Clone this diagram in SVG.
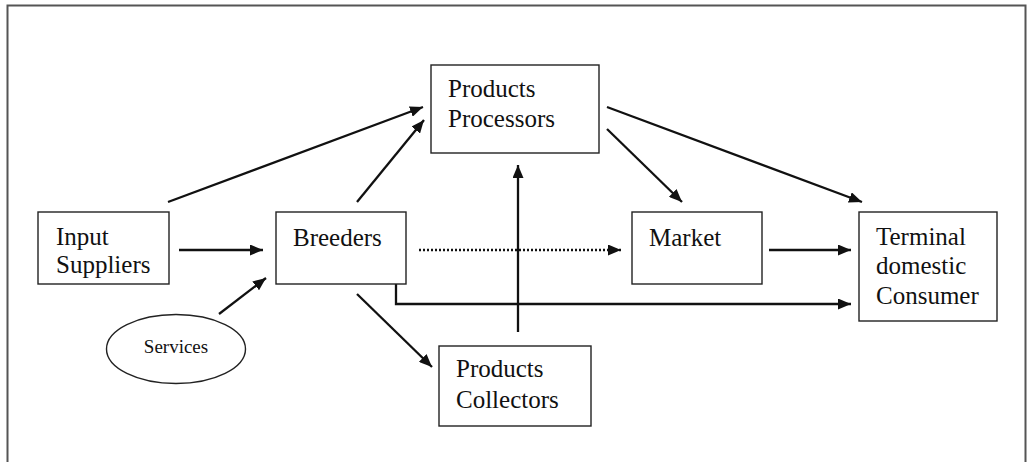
<svg xmlns="http://www.w3.org/2000/svg" width="1028" height="462" viewBox="0 0 1028 462">
<defs>
<style>
.box{fill:#fff;stroke:#222;stroke-width:1.4}
.t{font-family:"Liberation Serif","DejaVu Serif","Times New Roman",serif;font-size:25px;fill:#111}
.s{font-family:"Liberation Serif","DejaVu Serif","Times New Roman",serif;font-size:19px;fill:#111}
.c{fill:none;stroke:#111;stroke-width:2.3}
.d{fill:none;stroke:#111;stroke-width:2.3;stroke-dasharray:2 2}
</style>
<marker id="ah" viewBox="0 0 13 11" refX="13" refY="5.5" markerWidth="13" markerHeight="11" markerUnits="userSpaceOnUse" orient="auto">
<path d="M0,0 L13,5.5 L0,11 Z" fill="#111"/>
</marker>
</defs>
<rect width="1028" height="462" fill="#fff"/>
<path d="M7.5,462 V5.5 H1025.5 V462" fill="none" stroke="#555" stroke-width="2"/>
<g id="connectors">
<line class="c" x1="168" y1="202" x2="423" y2="107" marker-end="url(#ah)"/>
<line class="c" x1="357" y1="202" x2="424" y2="120" marker-end="url(#ah)"/>
<line class="c" x1="179" y1="250" x2="263" y2="250" marker-end="url(#ah)"/>
<line class="c" x1="219" y1="314" x2="266" y2="278" marker-end="url(#ah)"/>
<line class="d" x1="419" y1="250" x2="621" y2="250" marker-end="url(#ah)"/>
<line class="c" x1="769" y1="250" x2="851" y2="250" marker-end="url(#ah)"/>
<polyline class="c" points="396,284 396,304 851,304" marker-end="url(#ah)"/>
<line class="c" x1="357" y1="294" x2="432" y2="367" marker-end="url(#ah)"/>
<line class="c" x1="518" y1="332" x2="518" y2="165" marker-end="url(#ah)"/>
<line class="c" x1="607" y1="129" x2="682" y2="202" marker-end="url(#ah)"/>
<line class="c" x1="607" y1="107" x2="862" y2="202" marker-end="url(#ah)"/>
</g>
<g id="input-suppliers">
<rect class="box" x="38" y="212" width="131" height="72"/>
<text class="t" x="56" y="245">Input</text>
<text class="t" x="56" y="273">Suppliers</text>
</g>
<g id="breeders">
<rect class="box" x="276" y="212" width="130" height="72"/>
<text class="t" x="293" y="246">Breeders</text>
</g>
<g id="services">
<ellipse cx="176" cy="349" rx="69.5" ry="34.5" fill="#fff" stroke="#222" stroke-width="1.4"/>
<text class="s" x="176" y="353" text-anchor="middle">Services</text>
</g>
<g id="products-processors">
<rect class="box" x="431" y="65" width="168" height="88"/>
<text class="t" x="448" y="97">Products</text>
<text class="t" x="448" y="127">Processors</text>
</g>
<g id="products-collectors">
<rect class="box" x="439" y="346" width="152" height="80"/>
<text class="t" x="456" y="377">Products</text>
<text class="t" x="456" y="408">Collectors</text>
</g>
<g id="market">
<rect class="box" x="632" y="212" width="130" height="72"/>
<text class="t" x="649" y="246">Market</text>
</g>
<g id="consumer">
<rect class="box" x="859" y="212" width="138" height="109"/>
<text class="t" x="876" y="245">Terminal</text>
<text class="t" x="876" y="274">domestic</text>
<text class="t" x="876" y="304">Consumer</text>
</g>
</svg>
